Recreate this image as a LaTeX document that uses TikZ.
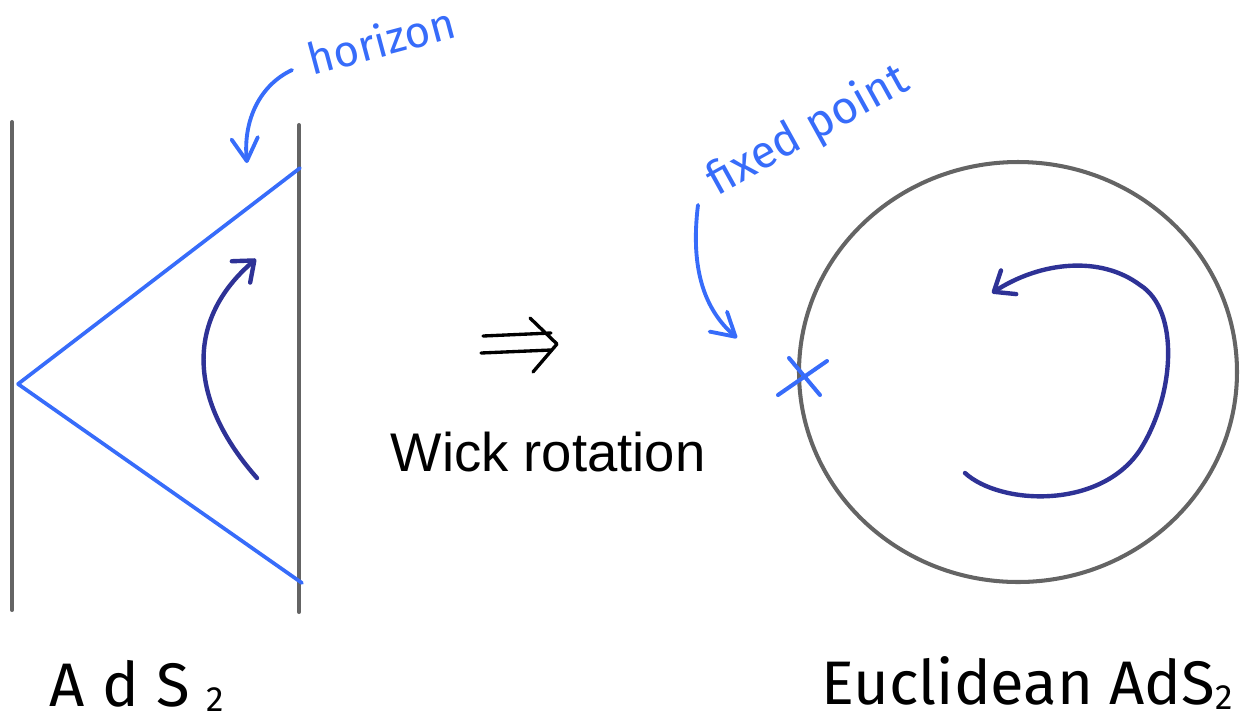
\documentclass[tikz,border=0pt]{standalone}
\usepackage{fontspec}
\setmainfont{Liberation Sans}
\newfontfamily\handfont{Fira Sans}
\usetikzlibrary{arrows.meta, positioning, calc}

\newcommand{\lowtwo}{\raisebox{-3pt}{\fontsize{20}{20}\selectfont 2}}

\begin{document}
\begin{tikzpicture}[
    x=0.02cm, y=-0.02cm,
    >=Stealth,
]
% Colors
\definecolor{wallgray}{RGB}{100,100,100}
\definecolor{penblue}{RGB}{55,108,250}
\definecolor{inkblue}{RGB}{46,50,150}
% ============================================================
% Styles
% ============================================================
\tikzset{
    wall/.style={draw=wallgray, line width=2.3pt, line cap=round},
    horizonline/.style={draw=penblue, line width=2.1pt, line cap=round},
    flow/.style={
        draw=inkblue, line width=2.5pt, line cap=round,
        -{Straight Barb[length=10pt, width=16pt, round]},
    },
    pointer/.style={
        draw=penblue, line width=2.2pt, line cap=round,
        -{Straight Barb[length=13pt, width=15pt, round]},
    },
    note/.style={font=\handfont\fontsize{25}{25}\selectfont, text=penblue, inner sep=0pt},
    caption/.style={font=\handfont\fontsize{35}{35}\selectfont, inner sep=0pt, anchor=base},
}
\useasboundingbox (0,0) rectangle (1259,725);
% ============================================================
% Left: Lorentzian AdS2 strip
% ============================================================
\coordinate (wallLtop) at (12,122);
\coordinate (wallLbot) at (12,610);
\coordinate (wallRtop) at (299,125);
\coordinate (wallRbot) at (299,612);
\draw[wall] (wallLtop) -- (wallLbot);
\draw[wall] (wallRtop) -- (wallRbot);

% Horizon wedge
\coordinate (apex) at (18,384);
\coordinate (hzTop) at (300,168);
\coordinate (hzBot) at (302,583);
\draw[horizonline] (apex) -- (hzTop);
\draw[horizonline] (apex) -- (hzBot);

% Time flow inside the wedge
\coordinate (boostA) at (257,478);
\coordinate (boostB) at (256,259);
\draw[flow] (boostA) .. controls (188,400) and (185,320) .. (boostB);

% Label: horizon
\node[note, rotate=15] (horizon) at (381,40) {horizon};
\coordinate (hzTail) at (292,70);
\coordinate (hzTip) at (247,163);
\draw[pointer] (hzTail) .. controls (260,85) and (243,120) .. (hzTip);

\node[caption] (adsL) at (137,706) {A\;d\;S\;\lowtwo};

% ============================================================
% Middle: Wick rotation
% ============================================================
\coordinate (imp) at (519,345);
\draw[line width=1.9pt, line cap=round, line join=round]
    ($(imp)+(-36,-9)$) -- ($(imp)+(32,-12)$)
    ($(imp)+(-38,8)$) -- ($(imp)+(32,5)$)
    ($(imp)+(11,-27)$) -- ($(imp)+(38,-1)$) -- ($(imp)+(14,27)$);
\node[font=\fontsize{31}{31}\selectfont, inner sep=0pt] (wick) at (548,452) {Wick rotation};

% ============================================================
% Right: Euclidean AdS2 disk
% ============================================================
\coordinate (disk) at (1018,372);
\draw[wall] (disk) ellipse [x radius=219, y radius=210];

% Fixed point cross
\coordinate (fixA) at (789,358);
\coordinate (fixB) at (820,395);
\coordinate (fixC) at (827,361);
\coordinate (fixD) at (778,395);
\draw[horizonline, line width=2.3pt] (fixA) -- (fixB);
\draw[horizonline, line width=2.3pt] (fixC) -- (fixD);

% Label: fixed point
\node[note, font=\handfont\fontsize{26}{26}\selectfont, rotate=29] (fixed) at (808,131) {fixed point};
\coordinate (fxTail) at (698,205);
\coordinate (fxTip) at (737,338);
\draw[pointer] (fxTail) .. controls (690,270) and (705,310) .. (fxTip);

% Euclidean time flow
\coordinate (rotA) at (965,473);
\coordinate (rotB) at (992,293);
\draw[flow] (rotA) .. controls (1000,505) and (1100,510) .. (1140,450)
    .. controls (1175,395) and (1180,310) .. (1140,285)
    .. controls (1100,255) and (1040,262) .. (rotB);

\node[caption] (adsR) at (1027,704) {Euclidean AdS\lowtwo};
\end{tikzpicture}
\end{document}
